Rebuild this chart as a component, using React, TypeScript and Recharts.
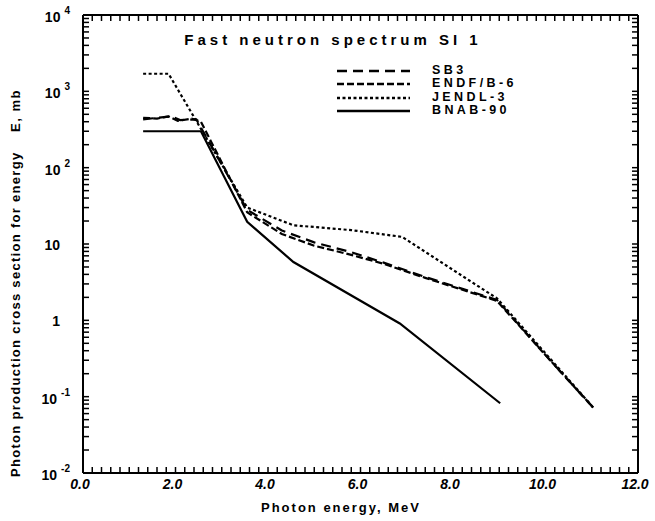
import { LineChart, Line, XAxis, YAxis, Legend, ReferenceLine } from "recharts";

// photon energy (MeV) vs photon production cross section (mb)
const sb3 = [
  { e: 1.3, v: 430 },
  { e: 1.9, v: 470 },
  { e: 2.1, v: 420 },
  { e: 2.45, v: 430 },
  { e: 3.55, v: 28 },
  { e: 4.3, v: 15 },
  { e: 5.0, v: 10.5 },
  { e: 5.8, v: 7.8 },
  { e: 6.5, v: 5.7 },
  { e: 7.4, v: 3.7 },
  { e: 8.95, v: 1.85 },
  { e: 10.1, v: 0.3 },
  { e: 11.03, v: 0.072 },
];

const endf = [
  { e: 1.3, v: 450 },
  { e: 1.6, v: 440 },
  { e: 1.85, v: 470 },
  { e: 2.05, v: 410 },
  { e: 2.35, v: 440 },
  { e: 2.55, v: 400 },
  { e: 3.55, v: 26 },
  { e: 4.3, v: 13.5 },
  { e: 5.0, v: 9.5 },
  { e: 5.8, v: 7.2 },
  { e: 6.5, v: 5.5 },
  { e: 7.4, v: 3.6 },
  { e: 8.95, v: 1.8 },
  { e: 10.1, v: 0.3 },
  { e: 11.03, v: 0.072 },
];

const jendl = [
  { e: 1.3, v: 1700 },
  { e: 1.85, v: 1700 },
  { e: 3.55, v: 30 },
  { e: 4.55, v: 17.6 },
  { e: 5.8, v: 15.2 },
  { e: 6.9, v: 12.4 },
  { e: 8.95, v: 1.94 },
  { e: 11.05, v: 0.07 },
];

const bnab = [
  { e: 1.3, v: 300 },
  { e: 2.55, v: 300 },
  { e: 3.55, v: 19.5 },
  { e: 4.55, v: 5.8 },
  { e: 6.85, v: 0.91 },
  { e: 9.02, v: 0.082 },
];

const seriesNames = ["SB3", "ENDF/B-6", "JENDL-3", "BNAB-90"];
const seriesDash = ["10 6", "7 3", "3 2.5", undefined];

const X_MIN = 0;
const X_MAX = 12;
const Y_MIN = 0.01;
const Y_MAX = 10000;

const xMajor = [0, 2, 4, 6, 8, 10, 12];
const xMajorLabels = ["0.0", "2.0", "4.0", "6.0", "8.0", "10.0", "12.0"];
const xTicks = Array.from({ length: 61 }, (_, i) => Math.round(i * 2) / 10);

const yDecades = [0.01, 0.1, 1, 10, 100, 1000, 10000];
const yBases = ["10", "10", "1", "10", "10", "10", "10"];
const yExps = ["-2", "-1", "", "", "2", "3", "4"];
const yTicks = yDecades.flatMap((d, i) =>
  i === yDecades.length - 1 ? [d] : [d].concat([2, 3, 4, 5, 6, 7, 8, 9].map((k) => d * k))
);

const W = 655;
const H = 521;
// negative tick size turns the tick marks inward, into the plot
const TICK = -6;

const FONT = "'Liberation Sans', Arial, sans-serif";
const ink = "#000";
const tickStyle = { stroke: ink, strokeWidth: 1.5 };
const frameStyle = { stroke: ink, strokeWidth: 2 };

const BottomTick = (props: any) => {
  const idx = xMajor.findIndex((m) => Math.abs(m - props.payload.value) < 1e-6);
  if (idx < 0) return <g />;
  return (
    <text x={props.x - 3} y={props.y - TICK + 16} textAnchor="middle" fontFamily={FONT} fontWeight="bold"
      fontStyle="italic" fontSize={14} fill={ink}>
      {xMajorLabels[idx]}
    </text>
  );
};

const LeftTick = (props: any) => {
  const y = props.y;
  const idx = yDecades.indexOf(props.payload.value);
  if (idx < 0) return <g />;
  if (yExps[idx] === "")
    return (
      <text x={60} y={y + 6} textAnchor="end" fontFamily={FONT} fontWeight="bold" fontSize={14} fill={ink}>
        {yBases[idx]}
      </text>
    );
  return (
    <text x={70} y={y + 7} textAnchor="end" fontFamily={FONT} fontWeight="bold" fontSize={14} fill={ink}>
      {yBases[idx]}
      <tspan dx={4} dy={-8} fontSize={10}>{yExps[idx]}</tspan>
    </text>
  );
};

const NoLabel = () => <g />;

const YTitle = () => (
  <g fontFamily={FONT} fontWeight="bold" fontSize={13} fill={ink}>
    <text x={20} y={477} transform="rotate(-90, 20, 477)" letterSpacing={1.3}>
      Photon production cross section for energy
    </text>
    <text x={20} y={132} transform="rotate(-90, 20, 132)" letterSpacing={1.5}>
      E, mb
    </text>
  </g>
);

const XTitle = () => (
  <text x={341} y={512} textAnchor="middle" fontFamily={FONT} fontWeight="bold" fontSize={13}
    letterSpacing={2} fill={ink}>
    Photon energy, MeV
  </text>
);

const KeyBox = () => (
  <div style={{ position: "relative", width: W, height: 130, fontFamily: FONT, fontWeight: "bold", color: ink }}>
    <div style={{ position: "absolute", left: 183, top: 31, width: 300, textAlign: "center", fontSize: 15, letterSpacing: 4, whiteSpace: "nowrap" }}>
      Fast neutron spectrum SI 1
    </div>
    {seriesNames.map((name, i) => (
      <div key={name} style={{ position: "absolute", left: 337, top: 64 + i * 13.4, height: 12, display: "flex", alignItems: "center" }}>
        <svg width={75} height={12}>
          <line x1={0} x2={73} y1={7} y2={7} stroke={ink} strokeWidth={2.5} strokeDasharray={seriesDash[i]} />
        </svg>
        <span style={{ marginLeft: 20, fontSize: 12.5, letterSpacing: 3.4, lineHeight: "12px" }}>{name}</span>
      </div>
    ))}
  </div>
);

export default function App() {
  const lines = [sb3, endf, jendl, bnab];
  return (
    <div style={{ position: "absolute", left: 0, top: 0, width: W, height: H, background: "#fff" }}>
      <LineChart width={W} height={H} margin={{ top: 0, right: 0, bottom: 0, left: 0 }}>
        <XAxis xAxisId="bottom" type="number" dataKey="e" domain={[X_MIN, X_MAX]}
          ticks={xTicks} interval={0} tickSize={TICK} tickMargin={0} height={48}
          axisLine={frameStyle} tickLine={tickStyle} tick={BottomTick}
          label={<XTitle />} />
        <XAxis xAxisId="top" orientation="top" type="number" dataKey="e" domain={[X_MIN, X_MAX]} allowDataOverflow
          ticks={xTicks} interval={0} tickSize={TICK} tickMargin={0} height={15}
          axisLine={frameStyle} tickLine={tickStyle} tick={NoLabel} />
        <YAxis yAxisId="left" type="number" scale="log" domain={[Y_MIN, Y_MAX]}
          ticks={yTicks} interval={0} tickSize={TICK} tickMargin={0} width={83}
          axisLine={frameStyle} tickLine={tickStyle} tick={LeftTick}
          label={<YTitle />} />
        <YAxis yAxisId="right" orientation="right" type="number" scale="log" domain={[Y_MIN, Y_MAX]} allowDataOverflow
          ticks={yTicks} interval={0} tickSize={TICK} tickMargin={0} width={17}
          axisLine={frameStyle} tickLine={tickStyle} tick={NoLabel} />
        <ReferenceLine xAxisId="bottom" yAxisId="left" y={Y_MAX} stroke={ink} strokeWidth={2} />
        <ReferenceLine xAxisId="bottom" yAxisId="left" x={X_MAX} stroke={ink} strokeWidth={2} />
        <Legend layout="horizontal" verticalAlign="middle" align="center"
          wrapperStyle={{ left: 0, top: 0, width: W, height: 130 }} content={() => <KeyBox />} />
        {lines.map((d, i) => (
          <Line key={seriesNames[i]} name={seriesNames[i]} xAxisId="bottom" yAxisId="left" data={d}
            dataKey="v" type="linear" stroke={ink} strokeWidth={2.2} strokeDasharray={seriesDash[i]}
            dot={false} activeDot={false} isAnimationActive={false} />
        ))}
      </LineChart>
    </div>
  );
}
